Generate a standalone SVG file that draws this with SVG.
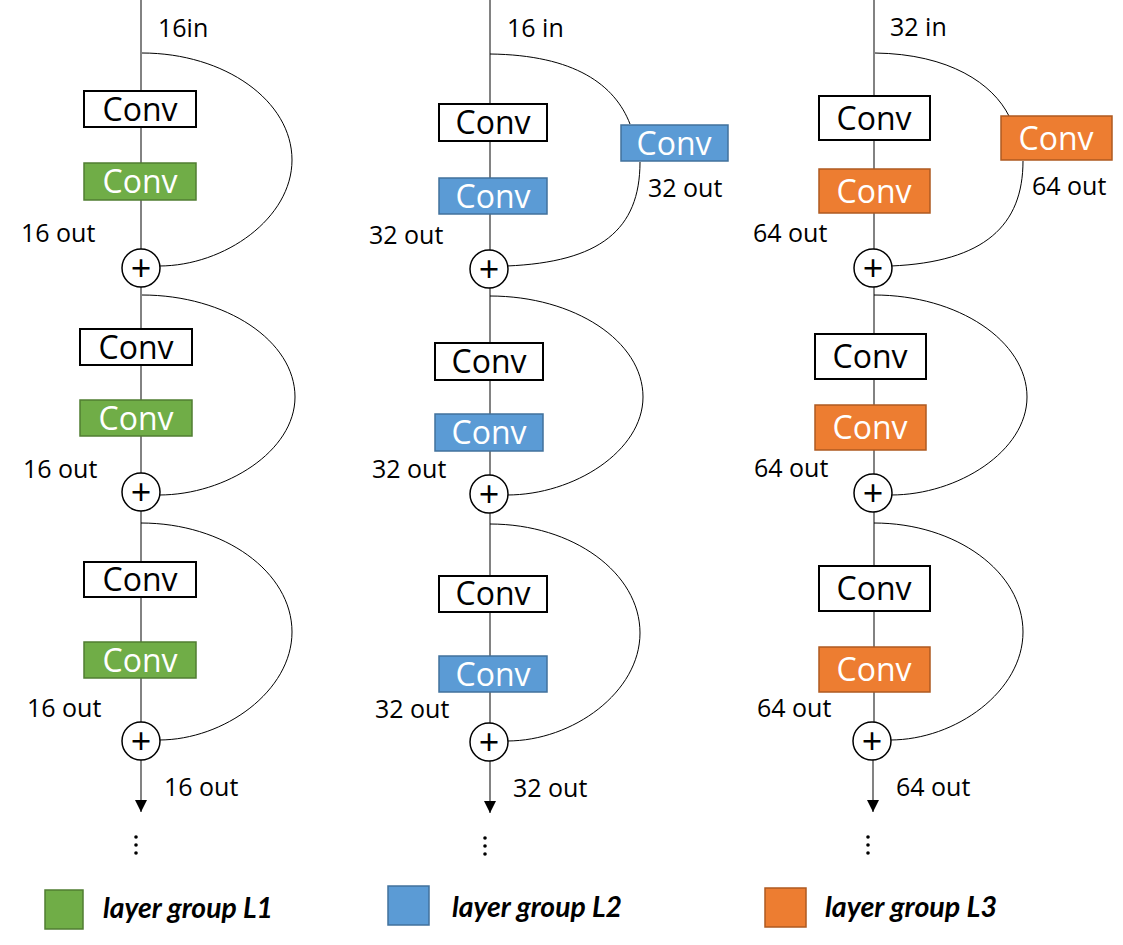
<svg xmlns="http://www.w3.org/2000/svg" width="1123" height="945" viewBox="0 0 1123 945">
<defs>
<style>
.main{stroke:#404040;stroke-width:1.3;fill:none}
.skip{stroke:#000;stroke-width:1;fill:none}
.wbox{fill:#fff;stroke:#000;stroke-width:2}
.g{fill:#70AD47;stroke:#507E32;stroke-width:1.5}
.b{fill:#5B9BD5;stroke:#41719C;stroke-width:1.5}
.o{fill:#ED7D31;stroke:#AE5A21;stroke-width:1.5}
.ct{font-family:"Open Sans","Noto Sans",sans-serif;font-size:32px;text-anchor:middle}
.ctw{fill:#fff}
.ctb{fill:#000}
.lbl{font-family:"Open Sans","Noto Sans",sans-serif;font-size:25px;fill:#000}
.sum{fill:#fff;stroke:#000;stroke-width:1.5}
.plus{font-family:"Open Sans","Noto Sans",sans-serif;font-size:36px;text-anchor:middle;fill:#000}
.leg{font-family:Lato,"Open Sans",sans-serif;font-size:28px;font-weight:bold;font-style:italic;fill:#000}
</style>
<marker id="arr" viewBox="0 0 12 12" markerWidth="12" markerHeight="12" refX="12" refY="6" orient="auto" markerUnits="userSpaceOnUse">
<path d="M0,0 L12,6 L0,12 Z" fill="#000"/>
</marker>
</defs>
<rect width="1123" height="945" fill="#fff"/>

<g id="connectors">
<path class="main" d="M141,0 V249 M141,287 V473 M141,511 V722"/>
<path class="main" d="M141,760 V812" marker-end="url(#arr)"/>
<path class="skip" d="M142,53 C225,53 292,101 292,160 C292,218 225,266 159,266"/>
<path class="skip" d="M142,295 C226,295 295,341 295,397 C295,451 226,495 159,495"/>
<path class="skip" d="M141,523 C224,523 292,572 292,632 C292,691 224,740 159,740"/>
<path class="main" d="M490,0 V250 M490,288 V475 M490,513 V723"/>
<path class="main" d="M490,761 V813" marker-end="url(#arr)"/>
<path class="skip" d="M490,54 C575,55 615,85 630,124"/>
<path class="skip" d="M640,162 C640,230 600,262 507,266"/>
<path class="skip" d="M490,296 C574,296 643,341 643,397 C643,451 574,495 507,495"/>
<path class="skip" d="M490,524 C573,524 640,573 640,633 C640,692 573,741 507,741"/>
<path class="main" d="M874,0 V249 M874,287 V474 M874,512 V722"/>
<path class="main" d="M873,760 V812" marker-end="url(#arr)"/>
<path class="skip" d="M875,53 C950,54 993,84 1009,116"/>
<path class="skip" d="M1023,161 C1023,225 985,262 891,266"/>
<path class="skip" d="M874,295 C958,295 1027,341 1027,397 C1027,451 958,495 891,495"/>
<path class="skip" d="M874,523 C956,523 1023,572 1023,632 C1023,691 956,740 890,740"/>
</g>

<g id="c1-b1-conv1"><rect class="wbox" x="84" y="91" width="112" height="36"/><text class="ct ctb" x="140" y="121">Conv</text></g>
<g id="c1-b1-conv2"><rect class="g" x="84" y="163" width="112" height="37"/><text class="ct ctw" x="140" y="193">Conv</text></g>
<g id="c1-b1-sum"><circle class="sum" cx="141" cy="268" r="19"/><text class="plus" x="141" y="281">+</text></g>
<g id="c1-b2-conv1"><rect class="wbox" x="80" y="329" width="112" height="36"/><text class="ct ctb" x="136" y="359">Conv</text></g>
<g id="c1-b2-conv2"><rect class="g" x="80" y="400" width="112" height="36"/><text class="ct ctw" x="136" y="430">Conv</text></g>
<g id="c1-b2-sum"><circle class="sum" cx="141" cy="492" r="19"/><text class="plus" x="141" y="505">+</text></g>
<g id="c1-b3-conv1"><rect class="wbox" x="84" y="562" width="112" height="35"/><text class="ct ctb" x="140" y="591">Conv</text></g>
<g id="c1-b3-conv2"><rect class="g" x="84" y="642" width="112" height="36"/><text class="ct ctw" x="140" y="672">Conv</text></g>
<g id="c1-b3-sum"><circle class="sum" cx="141" cy="741" r="19"/><text class="plus" x="141" y="754">+</text></g>
<g id="c1-labels">
<text class="lbl" x="158" y="37">16in</text>
<text class="lbl" x="21" y="242">16 out</text>
<text class="lbl" x="23" y="478">16 out</text>
<text class="lbl" x="27" y="717">16 out</text>
<text class="lbl" x="164" y="796">16 out</text>
</g>
<g id="c1-dots" fill="#000"><circle cx="136" cy="837" r="1.8"/><circle cx="136" cy="845" r="1.8"/><circle cx="136" cy="853" r="1.8"/></g>

<g id="c2-b1-conv1"><rect class="wbox" x="439" y="104" width="108" height="37"/><text class="ct ctb" x="493" y="134">Conv</text></g>
<g id="c2-b1-conv2"><rect class="b" x="439" y="178" width="108" height="36"/><text class="ct ctw" x="493" y="208">Conv</text></g>
<g id="c2-b1-convskip"><rect class="b" x="621" y="125" width="107" height="36"/><text class="ct ctw" x="674" y="155">Conv</text></g>
<g id="c2-b1-sum"><circle class="sum" cx="489" cy="269" r="19"/><text class="plus" x="489" y="282">+</text></g>
<g id="c2-b2-conv1"><rect class="wbox" x="435" y="343" width="108" height="37"/><text class="ct ctb" x="489" y="373">Conv</text></g>
<g id="c2-b2-conv2"><rect class="b" x="435" y="414" width="108" height="37"/><text class="ct ctw" x="489" y="444">Conv</text></g>
<g id="c2-b2-sum"><circle class="sum" cx="489" cy="494" r="19"/><text class="plus" x="489" y="507">+</text></g>
<g id="c2-b3-conv1"><rect class="wbox" x="439" y="576" width="108" height="36"/><text class="ct ctb" x="493" y="605">Conv</text></g>
<g id="c2-b3-conv2"><rect class="b" x="439" y="656" width="108" height="36"/><text class="ct ctw" x="493" y="686">Conv</text></g>
<g id="c2-b3-sum"><circle class="sum" cx="489" cy="742" r="19"/><text class="plus" x="489" y="755">+</text></g>
<g id="c2-labels">
<text class="lbl" x="507" y="37">16 in</text>
<text class="lbl" x="648" y="197">32 out</text>
<text class="lbl" x="369" y="244">32 out</text>
<text class="lbl" x="372" y="478">32 out</text>
<text class="lbl" x="375" y="718">32 out</text>
<text class="lbl" x="513" y="797">32 out</text>
</g>
<g id="c2-dots" fill="#000"><circle cx="485" cy="838" r="1.8"/><circle cx="485" cy="846" r="1.8"/><circle cx="485" cy="854" r="1.8"/></g>

<g id="c3-b1-conv1"><rect class="wbox" x="819" y="96" width="111" height="44"/><text class="ct ctb" x="874" y="130">Conv</text></g>
<g id="c3-b1-conv2"><rect class="o" x="819" y="169" width="111" height="44"/><text class="ct ctw" x="874" y="203">Conv</text></g>
<g id="c3-b1-convskip"><rect class="o" x="1001" y="116" width="111" height="44"/><text class="ct ctw" x="1056" y="150">Conv</text></g>
<g id="c3-b1-sum"><circle class="sum" cx="873" cy="268" r="19"/><text class="plus" x="873" y="281">+</text></g>
<g id="c3-b2-conv1"><rect class="wbox" x="815" y="334" width="111" height="45"/><text class="ct ctb" x="870" y="368">Conv</text></g>
<g id="c3-b2-conv2"><rect class="o" x="815" y="405" width="111" height="45"/><text class="ct ctw" x="870" y="439">Conv</text></g>
<g id="c3-b2-sum"><circle class="sum" cx="873" cy="493" r="19"/><text class="plus" x="873" y="506">+</text></g>
<g id="c3-b3-conv1"><rect class="wbox" x="819" y="566" width="111" height="45"/><text class="ct ctb" x="874" y="600">Conv</text></g>
<g id="c3-b3-conv2"><rect class="o" x="819" y="647" width="111" height="45"/><text class="ct ctw" x="874" y="681">Conv</text></g>
<g id="c3-b3-sum"><circle class="sum" cx="872" cy="741" r="19"/><text class="plus" x="872" y="754">+</text></g>
<g id="c3-labels">
<text class="lbl" x="890" y="36">32 in</text>
<text class="lbl" x="1032" y="195">64 out</text>
<text class="lbl" x="753" y="242">64 out</text>
<text class="lbl" x="754" y="477">64 out</text>
<text class="lbl" x="757" y="717">64 out</text>
<text class="lbl" x="896" y="796">64 out</text>
</g>
<g id="c3-dots" fill="#000"><circle cx="868" cy="837" r="1.8"/><circle cx="868" cy="845" r="1.8"/><circle cx="868" cy="853" r="1.8"/></g>

<g id="legend-l1"><rect class="g" x="45" y="890" width="38" height="39" stroke-width="2"/><text class="leg" x="103" y="918" textLength="170" lengthAdjust="spacingAndGlyphs">layer group L1</text></g>
<g id="legend-l2"><rect class="b" x="388" y="886" width="41" height="39" stroke-width="2"/><text class="leg" x="452" y="917" textLength="170" lengthAdjust="spacingAndGlyphs">layer group L2</text></g>
<g id="legend-l3"><rect class="o" x="765" y="888" width="41" height="39" stroke-width="2"/><text class="leg" x="825" y="917" textLength="172" lengthAdjust="spacingAndGlyphs">layer group L3</text></g>
</svg>
